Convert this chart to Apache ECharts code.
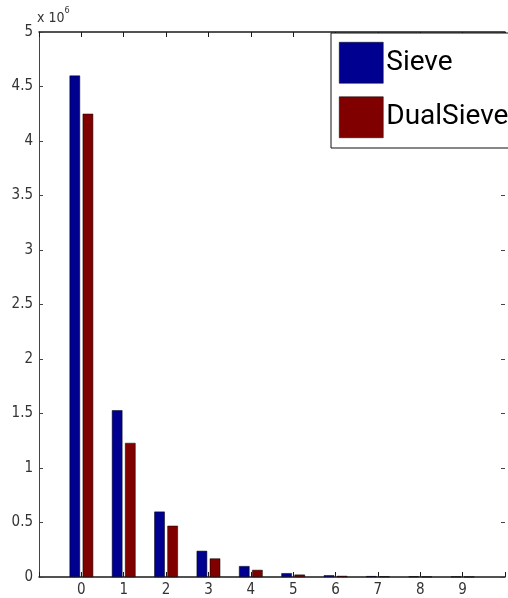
<!DOCTYPE html>
<html>
<head>
<meta charset="utf-8">
<script src="https://cdn.jsdelivr.net/npm/echarts@6/dist/echarts.min.js"></script>
<style>html,body{margin:0;padding:0;background:#fff;}#c{width:508px;height:598px;}</style>
</head>
<body>
<div id="c"></div>
<script>
// Values in units of 10^6
const categories = [0, 1, 2, 3, 4, 5, 6, 7, 8, 9];
const sieve = [4.60, 1.53, 0.60, 0.24, 0.10, 0.035, 0.016, 0.008, 0.005, 0.003];
const dualSieve = [4.25, 1.23, 0.47, 0.17, 0.065, 0.022, 0.010, 0.005, 0.003, 0.002];
const yTicks = [0, 0.5, 1, 1.5, 2, 2.5, 3, 3.5, 4, 4.5, 5];
const exponentLabel = '6';

const FONT = "'Liberation Sans Narrow', 'DejaVu Sans Condensed', 'Liberation Sans', sans-serif";
const chart = echarts.init(document.getElementById('c'));
const xLine = { show: true, onZero: false, lineStyle: { color: '#1a1a1a', width: 1.5 } };
const yLine = { show: true, onZero: false, lineStyle: { color: '#444', width: 1 } };

chart.setOption({
  animation: false,
  grid: { left: 39, right: 0, top: 32, bottom: 21, containLabel: false },
  graphic: [{
    type: 'text', left: 37, top: 6,
    style: {
      text: '{a|x 10}{b|' + exponentLabel + '}',
      rich: {
        a: { fontFamily: FONT, fontSize: 14, fill: '#333', padding: [5, 0, 0, 0] },
        b: { fontFamily: FONT, fontSize: 9, fill: '#333', verticalAlign: 'top' }
      }
    }
  }],
  legend: {
    orient: 'vertical', left: 331, top: 33,
    icon: 'rect',
    itemWidth: 44, itemHeight: 41, itemGap: 13,
    padding: [9, 40, 10, 8],
    backgroundColor: '#fff', borderColor: '#111', borderWidth: 1, borderRadius: 0,
    textStyle: { fontFamily: 'Roboto, sans-serif', fontSize: 28, color: '#000', padding: [0, 0, 0, -2] },
    data: [
      { name: 'Sieve', itemStyle: { borderColor: '#000', borderWidth: 0.5 } },
      { name: 'DualSieve', itemStyle: { borderColor: '#000', borderWidth: 0.5 } }
    ]
  },
  xAxis: [{
    type: 'value', min: -1, max: 10, interval: 1, position: 'bottom',
    axisLine: xLine,
    axisTick: { show: true, inside: true, length: 5, lineStyle: { color: '#1a1a1a' } },
    axisLabel: {
      fontFamily: FONT, fontSize: 15, color: '#333', margin: 6,
      formatter: v => (categories.indexOf(v) >= 0 ? String(v) : '')
    },
    splitLine: { show: false }
  }, {
    type: 'value', min: -1, max: 10, interval: 1, position: 'top',
    axisLine: xLine,
    axisTick: { show: true, inside: true, length: 5, lineStyle: { color: '#1a1a1a' } },
    axisLabel: { show: false }, splitLine: { show: false }
  }],
  yAxis: [{
    type: 'value', min: 0, max: 5, interval: 0.5, position: 'left',
    axisLine: yLine,
    axisTick: { show: true, inside: true, length: 4, lineStyle: { color: '#444' } },
    axisLabel: {
      fontFamily: FONT, fontSize: 15, color: '#333', margin: 6,
      formatter: v => (yTicks.indexOf(v) >= 0 ? String(v) : '')
    },
    splitLine: { show: false }
  }, {
    type: 'value', min: 0, max: 5, interval: 0.5, position: 'right',
    axisLine: { show: false, onZero: false },
    axisTick: { show: true, inside: true, length: 4, lineStyle: { color: '#444' } },
    axisLabel: { show: false }, splitLine: { show: false }
  }],
  series: [{
    name: 'Sieve', type: 'bar', xAxisIndex: 0, yAxisIndex: 0,
    barWidth: 10.5, barGap: '25%',
    itemStyle: { color: '#000090', borderColor: '#000', borderWidth: 0.5 },
    data: categories.map((c, i) => [c, sieve[i]])
  }, {
    name: 'DualSieve', type: 'bar', xAxisIndex: 0, yAxisIndex: 0,
    barWidth: 10.5, barGap: '25%',
    itemStyle: { color: '#800000', borderColor: '#000', borderWidth: 0.5 },
    data: categories.map((c, i) => [c, dualSieve[i]])
  }]
});
</script>
</body>
</html>
